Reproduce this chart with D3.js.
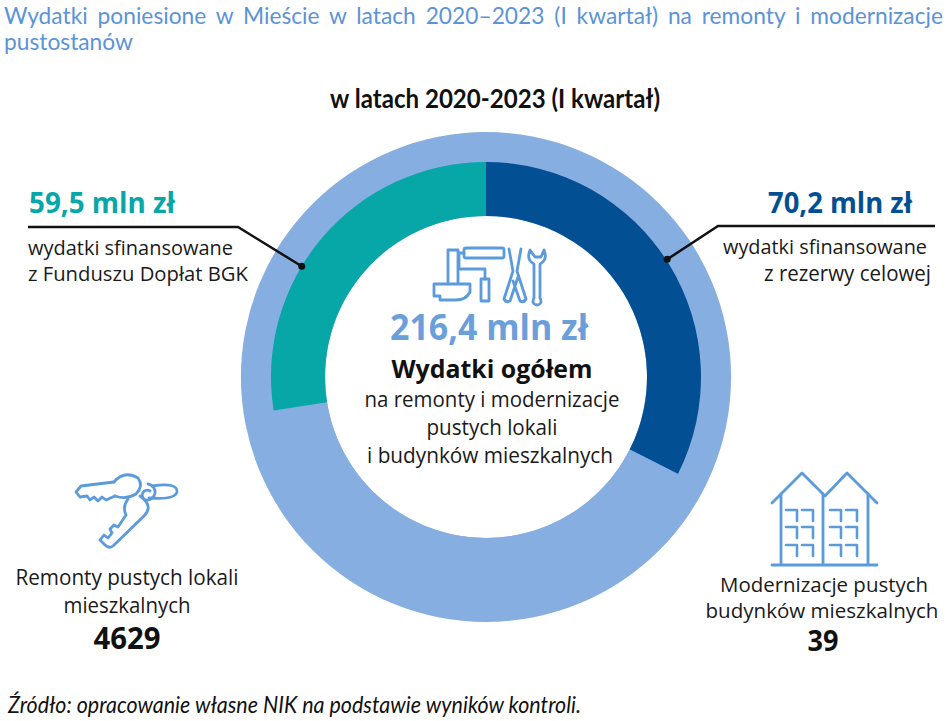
<!DOCTYPE html>
<html>
<head>
<meta charset="utf-8">
<script src="https://cdn.jsdelivr.net/npm/d3@7.9.0/dist/d3.min.js"></script>
<style>
  body { margin: 0; background: #fff; }
  svg { display: block; }
</style>
</head>
<body>
<svg id="chart" width="948" height="721"></svg>
<script>
// data
const total = 216.4;
const segNames = ["rezerwa celowa", "pozostałe", "Fundusz Dopłat BGK"];
const segValues = [70.2, 86.7, 59.5];
const segColors = ["#034f94", "#86aee0", "#07a6a7"];
const segAmounts = ["70,2 mln zł", "59,5 mln zł"];
const counts = ["4629", "39"];

const ringColor = "#86aee0";
const iconColor = "#5b9bdc";

const svg = d3.select('#chart');
const cx = 486, cy = 377;

// text helper: size the string to the given width, then make it a bit taller
// and squeeze the glyphs back to width (the original fonts are narrower)
function fit(t, w, boost) {
  let len = t.node().getComputedTextLength();
  let fs = parseFloat(t.attr('font-size'));
  t.attr('font-size', (fs * w / len * (boost || 1)).toFixed(2));
  if (boost && boost !== 1) {
    t.attr('textLength', w).attr('lengthAdjust', 'spacingAndGlyphs');
  }
  return t;
}

function label(x, y, txt, opts) {
  let t = svg.append('text')
    .attr('x', x).attr('y', y)
    .attr('font-family', opts.font || "'Open Sans', sans-serif")
    .attr('font-size', 20)
    .attr('font-weight', opts.bold ? 700 : 400)
    .attr('font-style', opts.italic ? 'italic' : 'normal')
    .attr('fill', opts.color || '#1a1a1a')
    .attr('text-anchor', opts.anchor || 'start')
    .text(txt);
  if (opts.w) fit(t, opts.w, opts.boost === undefined ? 1.03 : opts.boost);
  return t;
}

/* title: justified, narrow font -> squeeze a group horizontally */
const k = 0.95;
let tg = svg.append('g').attr('transform', `scale(${k},1)`);
let t2 = tg.append('text')
  .attr('x', 4 / k).attr('y', 50)
  .attr('font-family', "Lato, sans-serif").attr('font-size', 20)
  .attr('fill', '#5b93d8')
  .text("pustostanów");
let l2 = t2.node().getComputedTextLength();
let titleSize = 20 * (129 / k) / l2;
t2.attr('font-size', titleSize.toFixed(2));
let t1 = tg.append('text')
  .attr('x', 4 / k).attr('y', 24)
  .attr('font-family', "Lato, sans-serif")
  .attr('font-size', titleSize.toFixed(2))
  .attr('fill', '#5b93d8')
  .text("Wydatki poniesione w Mieście w latach 2020–2023 (I kwartał) na remonty i modernizacje");
let words = t1.text().split(' ').length - 1;
let len1 = t1.node().getComputedTextLength();
t1.attr('word-spacing', ((939 / k - len1) / words).toFixed(2));

label(495, 108, "w latach 2020-2023 (I kwartał)", { font: "Lato, sans-serif", bold: true, anchor: 'middle', w: 330, color: '#111', boost: 1.08 });

/* donut */
let pie = d3.pie().sort(null).value(d => d).startAngle(0).endAngle(2 * Math.PI);
let arcData = pie(segValues);

let g = svg.append('g').attr('transform', `translate(${cx},${cy})`);

g.append('path')
  .attr('d', d3.arc().innerRadius(161).outerRadius(245)({ startAngle: 0, endAngle: 2 * Math.PI }))
  .attr('fill', ringColor);

let innerArc = d3.arc().innerRadius(161).outerRadius(215);
g.selectAll('path.seg')
  .data(arcData)
  .enter()
  .append('path')
  .attr('class', 'seg')
  .attr('d', innerArc)
  .attr('fill', (d, i) => segColors[i]);

/* callouts */
function polar(deg, r) {
  let a = deg * Math.PI / 180;
  return [cx + r * Math.sin(a), cy - r * Math.cos(a)];
}
let dR = polar(57, 216);
let dL = polar(-59, 215);

svg.append('path')
  .attr('d', `M${dL[0]},${dL[1]} L238,227 L28,227`)
  .attr('fill', 'none').attr('stroke', '#111').attr('stroke-width', 2.5);
svg.append('circle').attr('cx', dL[0]).attr('cy', dL[1]).attr('r', 3.5).attr('fill', '#111');

svg.append('path')
  .attr('d', `M${dR[0]},${dR[1]} L718,226 L935,226`)
  .attr('fill', 'none').attr('stroke', '#111').attr('stroke-width', 2.5);
svg.append('circle').attr('cx', dR[0]).attr('cy', dR[1]).attr('r', 3.5).attr('fill', '#111');

label(29, 213, segAmounts[1], { bold: true, color: segColors[2], w: 146 });
label(28, 255, "wydatki sfinansowane", { w: 205 });
label(28, 281, "z Funduszu Dopłat BGK", { w: 220 });

label(912, 213, segAmounts[0], { bold: true, color: segColors[0], anchor: 'end', w: 144 });
label(927, 254, "wydatki sfinansowane", { anchor: 'end', w: 204 });
label(931, 281, "z rezerwy celowej", { anchor: 'end', w: 167 });

/* centre */
label(489, 340, total.toFixed(1).replace('.', ',') + " mln zł", { bold: true, color: '#6a9fdc', anchor: 'middle', w: 198 });
label(492, 378, "Wydatki ogółem", { bold: true, anchor: 'middle', w: 201, color: '#111' });
label(492, 407, "na remonty i modernizacje", { anchor: 'middle', w: 255 });
label(492, 435, "pustych lokali", { anchor: 'middle', w: 131 });
label(490, 463, "i budynków mieszkalnych", { anchor: 'middle', w: 246 });

/* bottom labels */
label(127, 585, "Remonty pustych lokali", { anchor: 'middle', w: 223 });
label(127, 613, "mieszkalnych", { anchor: 'middle', w: 127 });
label(127, 649, counts[0], { anchor: 'middle', bold: true, w: 67, color: '#111' });

label(824, 592, "Modernizacje pustych", { anchor: 'middle', w: 208, boost: 1 });
label(822, 618, "budynków mieszkalnych", { anchor: 'middle', w: 233, boost: 1 });
label(823, 651, counts[1], { anchor: 'middle', bold: true, w: 31, color: '#111' });

label(8, 713, "Źródło: opracowanie własne NIK na podstawie wyników kontroli.", { font: "Lato, sans-serif", italic: true, w: 573, color: '#111', boost: 1.1 });

/* icons */
function icon(d, sw) {
  svg.append('path').attr('d', d)
    .attr('fill', 'none').attr('stroke', iconColor)
    .attr('stroke-width', sw || 2.8)
    .attr('stroke-linejoin', 'round').attr('stroke-linecap', 'round');
}

// tools
icon("M466,248 h36 a2,2 0 0 1 2,2 v6 a2,2 0 0 1 -2,2 h-36 a2,2 0 0 1 -2,-2 v-6 a2,2 0 0 1 2,-2 z");
icon("M464,253 h-5 v16 h26 v10");
icon("M481,279 h8 v22 h-8 z");
icon("M448,250 h10 v33 M448,250 v33");
icon("M434,284 h36 v8 q-4,8 -14,8 h-16 v-4 h-6 z");
icon("M509,249 l4,22 M521,249 l-4,22 M513,271 l-9,28 q2,4 6,2 l8,-24 M517,271 l9,28 q-2,4 -6,2 l-7,-20");
icon("M530,250 q-4,10 4,14 v34 q-3,6 3,7 q6,-1 3,-7 v-34 q8,-4 4,-14 l-3,7 h-6 z");

// keys
icon("M76,492 L81,486 L114,482 M76,492 L80,497 L87,496 L90,500 L94,497 L98,501 L102,497 L106,500 L115,496");
icon("M114,482 q10,-12 24,-4 q6,8 -2,16 q-10,6 -21,2");
icon("M148,484 a8,8 0 1 1 -2,16 a5,5 0 1 1 4,-9");
icon("M152,486 q26,-4 25,6 q-2,8 -28,6");
icon("M140,496 q14,10 4,20 L113,546 q-4,3 -8,-1 L100,540 L104,535 L108,538 L112,533 L110,529 L114,525 L118,527 L126,515 q-4,-8 2,-16");

// buildings
icon("M772,503 L802,473 L825,496 L847,473 L877,503");
icon("M781,494 V565 M823,494 V565 M868,494 V565 M772,565 H877");
const winCols = [786, 802, 830, 846];
const winRows = [510, 527, 545];
winRows.forEach(y => winCols.forEach(x => icon(`M${x},${y} h11 v11`, 2.6)));
</script>
</body>
</html>
